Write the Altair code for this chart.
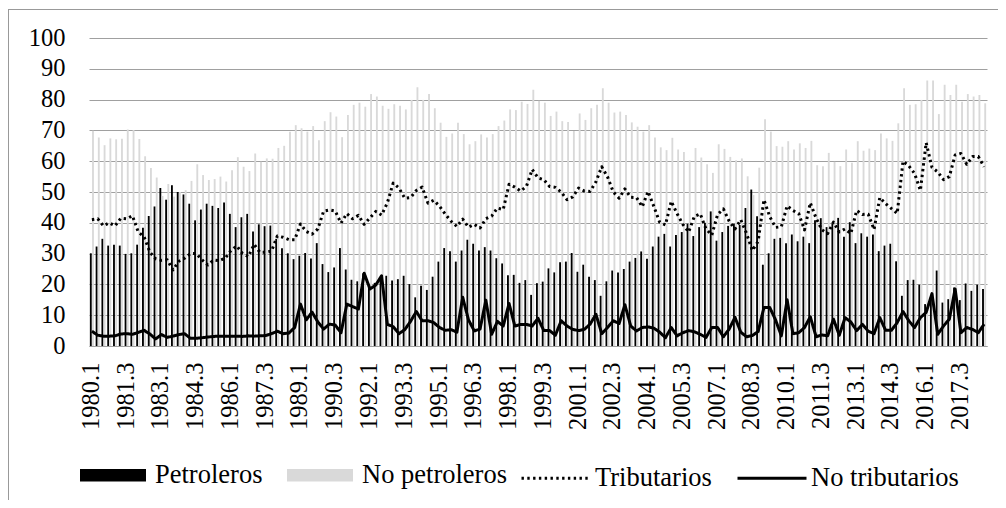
import altair as alt
import pandas as pd

# Quarterly categories 1980.1 .. 2018.3
quarters = [f"{y}.{q}" for y in range(1980, 2019) for q in range(1, 5)][:155]
tick_labels = quarters[::6]

petroleros = [
    30.1, 32.3, 34.8, 32.6, 32.9, 32.6, 29.9, 30.1, 32.9, 38.4,
    42.2, 45.3, 51.3, 47.5, 52.2, 50.0, 49.2, 46.2, 40.8, 44.3,
    46.2, 45.5, 44.8, 46.6, 42.9, 38.6, 41.8, 42.9, 37.2, 39.5,
    38.9, 39.1, 34.8, 31.7, 30.1, 28.2, 29.3, 30.2, 28.4, 33.4,
    26.6, 24.0, 25.5, 31.8, 24.8, 21.5, 21.0, 23.6, 19.7, 20.5,
    22.5, 22.8, 21.3, 21.7, 22.8, 20.1, 15.8, 19.6, 18.2, 22.5,
    27.4, 31.8, 30.8, 27.4, 31.0, 34.5, 33.2, 31.0, 32.1, 31.0,
    28.5, 26.8, 23.0, 23.1, 20.5, 21.4, 16.6, 20.4, 20.9, 25.2,
    23.9, 27.2, 27.4, 30.2, 24.1, 26.4, 22.5, 21.4, 16.3, 21.0,
    24.5, 23.9, 25.0, 27.4, 28.6, 30.7, 28.3, 32.3, 35.5, 36.4,
    32.3, 36.0, 37.0, 39.7, 35.7, 38.6, 40.0, 43.7, 34.2, 37.0,
    39.0, 39.7, 39.3, 44.8, 50.8, 42.1, 26.4, 30.1, 34.8, 35.1,
    33.4, 36.2, 34.0, 35.5, 33.4, 40.8, 41.5, 38.6, 39.7, 41.6,
    35.5, 40.2, 33.4, 36.6, 35.5, 36.2, 30.8, 32.6, 33.2, 27.5,
    16.3, 21.4, 21.5, 19.9, 13.6, 14.7, 24.5, 14.1, 15.2, 19.0,
    14.9, 20.3, 17.9, 19.9, 18.5,
]

no_petroleros = [
    69.9, 67.7, 65.2, 67.4, 67.1, 67.3, 70.3, 70.1, 67.2, 61.6,
    57.8, 54.7, 48.7, 52.6, 48.5, 50.0, 50.6, 53.6, 59.0, 55.5,
    53.9, 54.2, 55.0, 53.4, 57.1, 61.3, 58.2, 56.8, 62.5, 59.8,
    60.9, 60.8, 64.3, 65.0, 69.6, 71.7, 70.7, 69.6, 71.4, 66.8,
    73.0, 75.9, 74.5, 67.8, 75.0, 78.3, 79.0, 77.7, 81.8, 81.0,
    78.0, 77.0, 78.5, 78.0, 76.8, 79.9, 84.0, 79.9, 81.8, 77.2,
    72.5, 67.9, 69.0, 72.5, 68.8, 65.5, 66.5, 68.7, 67.7, 68.8,
    71.4, 73.2, 76.8, 76.6, 79.3, 78.6, 83.2, 79.6, 79.0, 74.7,
    76.1, 73.0, 72.7, 69.8, 75.5, 73.4, 77.2, 78.3, 83.7, 79.0,
    75.8, 76.1, 75.0, 72.6, 71.2, 69.6, 71.7, 67.7, 64.5, 63.6,
    67.6, 63.8, 63.0, 60.3, 64.3, 61.2, 59.0, 56.2, 65.5, 64.0,
    61.4, 60.3, 60.9, 55.1, 49.0, 57.9, 73.6, 69.6, 64.9, 64.7,
    66.5, 63.8, 65.8, 64.3, 66.6, 58.7, 58.4, 62.7, 59.8, 58.4,
    63.8, 59.5, 66.5, 63.4, 64.1, 63.6, 69.0, 67.4, 66.6, 72.3,
    83.7, 78.3, 78.5, 79.9, 86.2, 86.2, 75.3, 84.8, 81.5, 84.8,
    79.3, 81.8, 81.0, 81.5, 78.8,
]

tributarios = [
    41.0, 41.3, 39.0, 40.0, 39.0, 41.5, 41.3, 42.3, 37.0, 35.5,
    30.5, 28.3, 27.8, 28.0, 24.7, 27.5, 28.5, 30.0, 30.0, 28.0,
    26.3, 27.9, 27.7, 28.5, 31.0, 32.5, 30.0, 29.0, 33.0, 30.4,
    30.4, 30.8, 35.7, 35.3, 34.5, 34.5, 39.6, 37.2, 36.3, 38.0,
    43.8, 44.2, 43.8, 39.9, 43.0, 41.3, 42.4, 39.5, 41.6, 43.7,
    42.5, 46.5, 52.9, 51.3, 48.0, 48.2, 50.5, 51.6, 46.4, 47.3,
    45.4, 42.8, 40.5, 38.8, 41.2, 38.6, 39.5, 38.3, 41.3, 42.2,
    44.8, 44.3, 52.5, 51.6, 50.3, 51.8, 57.3, 54.6, 54.0, 51.8,
    51.5, 50.0, 47.5, 48.4, 51.3, 50.3, 50.2, 53.3, 58.2, 54.9,
    50.0, 48.0, 51.0, 48.3, 48.2, 45.2, 50.2, 45.3, 40.2, 39.3,
    47.0, 43.0, 39.5, 37.0, 42.1, 42.9, 38.0, 36.0, 42.7, 44.5,
    40.5, 38.0, 41.0, 36.5, 31.0, 34.0, 47.5, 42.0, 38.5, 38.7,
    45.5, 44.0, 43.0, 37.7, 46.5, 41.5, 37.7, 36.5, 40.2, 37.0,
    38.0, 36.5, 44.0, 42.7, 42.8, 37.8, 48.2, 46.2, 44.6, 43.0,
    60.0, 58.5, 56.0, 50.5, 66.0, 58.0, 56.5, 54.0, 55.0, 62.0,
    62.5, 59.0, 61.5, 61.5, 58.2,
]

no_tributarios = [
    4.8, 3.5, 3.2, 3.2, 3.3, 3.9, 4.0, 3.8, 4.4, 5.1,
    3.9, 2.3, 3.7, 2.8, 3.2, 3.7, 4.0, 2.5, 2.5, 2.7,
    2.9, 3.1, 3.2, 3.2, 3.2, 3.2, 3.1, 3.3, 3.2, 3.3,
    3.4, 4.0, 4.8, 4.0, 4.2, 6.0, 13.6, 8.5, 11.0, 7.8,
    5.5, 7.1, 6.8, 4.3, 13.6, 12.8, 12.0, 23.6, 18.5, 19.8,
    22.8, 7.0, 6.3, 4.0, 5.3, 8.0, 11.2, 8.2, 8.2, 7.6,
    6.0, 5.1, 5.3, 4.5, 15.8, 8.5, 4.9, 5.5, 14.9, 3.8,
    8.0, 6.5, 13.8, 6.5, 7.0, 7.0, 6.5, 9.0, 5.0, 5.0,
    3.5, 8.2, 6.5, 5.4, 5.0, 5.4, 7.1, 10.3, 4.0, 6.0,
    8.2, 7.3, 13.4, 6.5, 4.9, 6.0, 6.2, 5.8, 4.5, 2.7,
    6.0, 3.3, 4.3, 5.0, 4.6, 3.8, 2.8, 6.0, 6.0, 3.0,
    5.5, 9.3, 4.5, 3.0, 3.4, 4.7, 12.5, 12.5, 8.5, 3.3,
    15.0, 4.0, 4.3, 6.0, 9.5, 3.0, 3.6, 3.3, 8.7, 3.5,
    9.2, 7.8, 5.0, 7.0, 4.8, 4.0, 9.2, 5.1, 5.1, 7.6,
    11.2, 8.2, 6.0, 9.2, 10.9, 17.0, 3.8, 6.5, 8.7, 18.5,
    4.3, 6.0, 5.4, 4.3, 7.1,
]

bar_series = ["Petroleros", "No petroleros"]
line_series = ["Tributarios", "No tributarios"]
n = len(quarters)

bars_df = pd.DataFrame({
    "trimestre": quarters * 2,
    "serie": [bar_series[0]] * n + [bar_series[1]] * n,
    "valor": petroleros + no_petroleros,
})
lines_df = pd.DataFrame({
    "trimestre": quarters * 2,
    "serie": [line_series[0]] * n + [line_series[1]] * n,
    "valor": tributarios + no_tributarios,
})

FONT = "Liberation Serif"
GRID = "#a0a0a0"

x_enc = alt.X(
    "trimestre:O",
    sort=quarters,
    scale=alt.Scale(domain=quarters, paddingInner=0.3, paddingOuter=0.15),
    axis=alt.Axis(
        values=tick_labels, title=None, labelAngle=-90, ticks=False,
        domainColor=GRID, domainWidth=1, labelPadding=16, grid=False,
        labelFont=FONT, labelFontSize=24.5, labelColor="black",
    ),
)
y_enc = alt.Y(
    "valor:Q",
    scale=alt.Scale(domain=[0, 100], nice=False),
    axis=alt.Axis(
        values=list(range(0, 101, 10)), title=None, grid=True,
        gridColor=GRID, gridWidth=1, domain=False, ticks=False,
        labelPadding=24, labelFont=FONT, labelFontSize=24.5, labelColor="black",
    ),
)

bars = alt.Chart(bars_df).mark_bar(strokeWidth=0).encode(
    x=x_enc,
    y=y_enc,
    xOffset=alt.XOffset("serie:N", sort=bar_series,
                        scale=alt.Scale(domain=bar_series, paddingInner=0.15)),
    color=alt.Color(
        "serie:N",
        scale=alt.Scale(domain=bar_series, range=["#000000", "#d9d9d9"]),
        legend=alt.Legend(
            title=None, orient="none", legendX=-9, legendY=404,
            direction="horizontal", symbolType="M-1,-0.19H1V0.19H-1Z",
            symbolSize=4356, symbolStrokeWidth=0, labelFont=FONT,
            labelFontSize=26.5, labelColor="black", labelOffset=9,
            columnPadding=24, padding=0,
        ),
    ),
)

lines = alt.Chart(lines_df).mark_line(
    color="black", strokeWidth=3, strokeJoin="round"
).encode(
    x=x_enc,
    y=y_enc,
    strokeDash=alt.StrokeDash(
        "serie:N",
        sort=line_series,
        scale=alt.Scale(domain=line_series, range=[[2.4, 3.4], [1, 0]]),
        legend=alt.Legend(
            title=None, orient="none", legendX=431, legendY=404,
            direction="horizontal", symbolType="stroke", symbolSize=4761,
            symbolStrokeWidth=3, symbolStrokeColor="black", labelFont=FONT,
            labelFontSize=26.5, labelColor="black", labelOffset=3,
            columnPadding=19, padding=0,
        ),
    ),
)

frame_df = pd.DataFrame({"k": [0]})
top_border = alt.Chart(frame_df).mark_rule(color="#999999", strokeWidth=1).encode(
    x=alt.value(-81), x2=alt.value(915), y=alt.value(-28.5)
)
left_border = alt.Chart(frame_df).mark_rule(color="#999999", strokeWidth=1).encode(
    x=alt.value(-80.5), y=alt.value(-29), y2=alt.value(480)
)

chart = alt.layer(bars, lines, top_border, left_border).properties(
    width=898,
    height=308,
    autosize=alt.AutoSizeParams(type="none"),
    padding={"left": 81, "top": 30, "right": 11, "bottom": 154},
    background="white",
).configure_view(stroke=None).resolve_legend(color="independent", strokeDash="independent")

chart.save("out.html", embed_options={"renderer": "svg", "actions": False})
